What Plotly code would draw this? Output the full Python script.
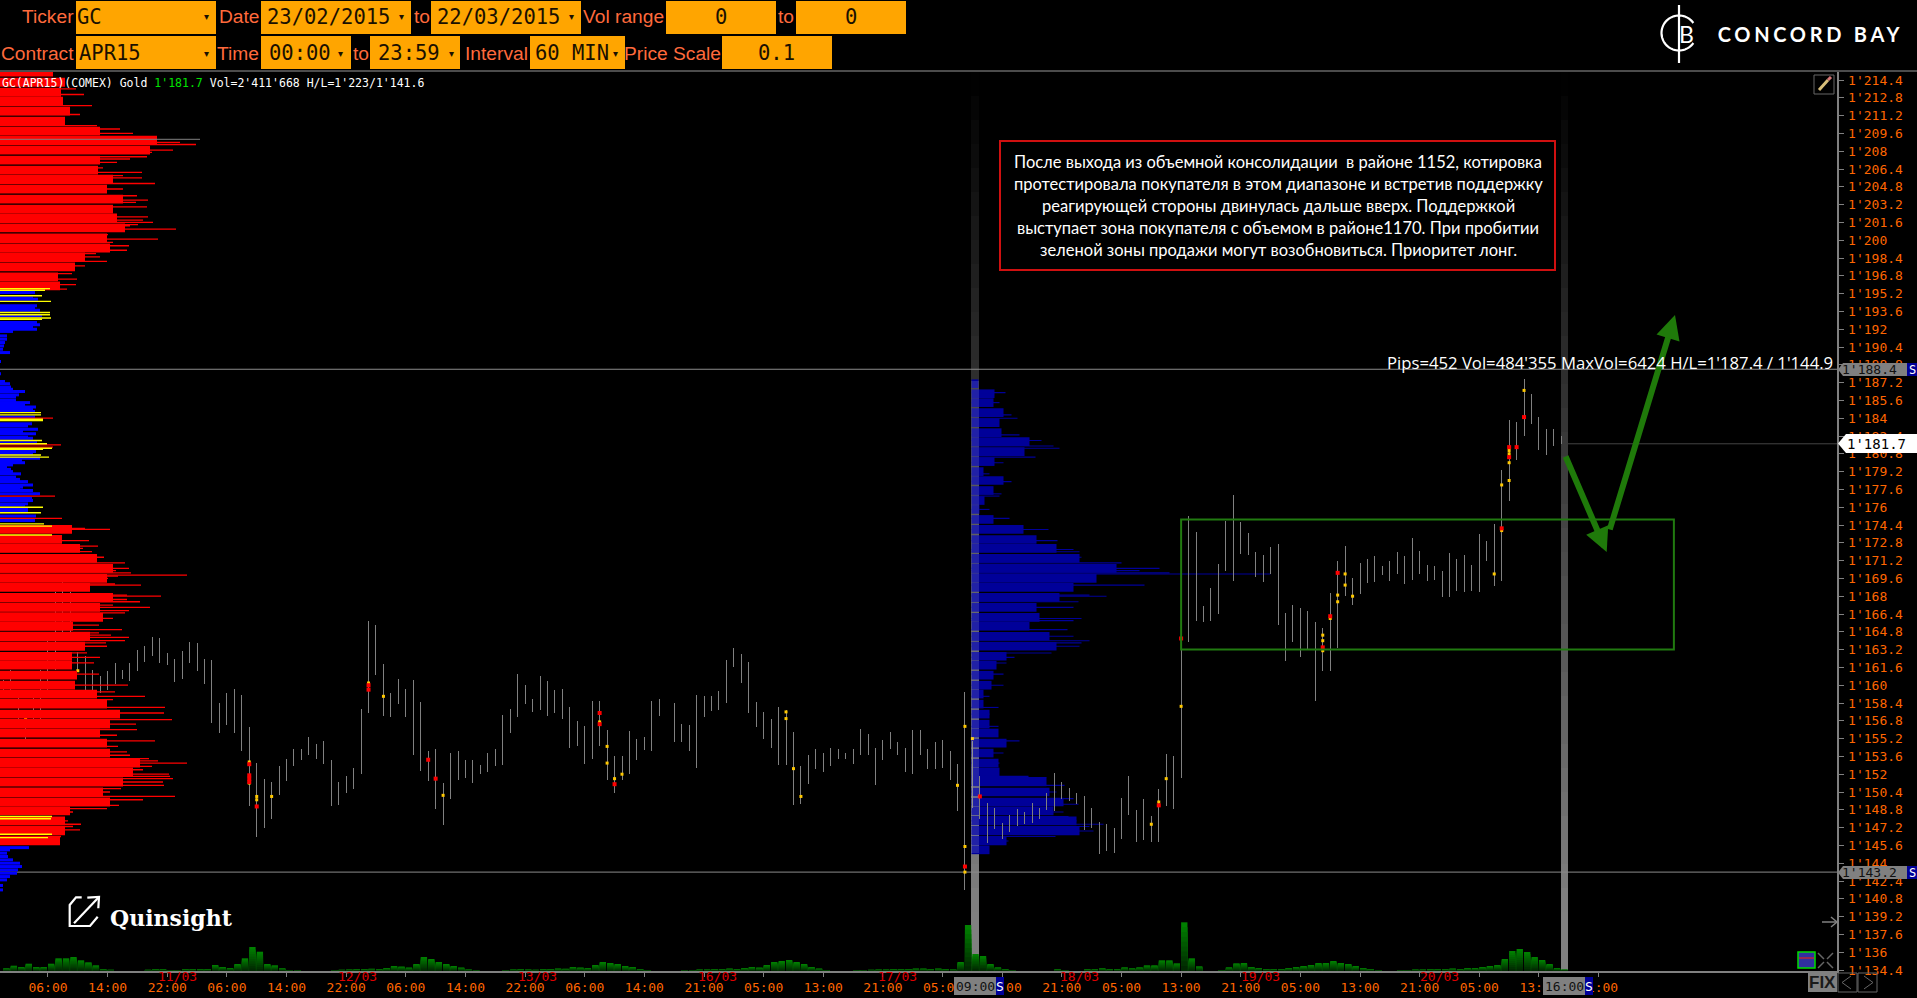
import math
import plotly.graph_objects as go

W, H = 1917, 998

# ---------- hourly bars (gold, APR15): high / low per hour, None = market closed
highs = [1160.5,1161.4,1159.6,1157.0,1159.6,1161.4,1164.8,1168.4,1169.3,1168.4,
 1163.0,1162.6,1161.4,1160.8,1161.3,1162.0,1161.4,1162.0,1163.2,1163.5,
 1164.3,1164.2,1162.9,1162.4,1163.1,1163.9,1163.8,1162.4,1162.3,1158.4,
 1159.3,1159.7,1159.1,1156.2,1153.0,1151.6,1151.3,1152.7,1153.4,1154.3,
 1154.3,1155.3,1154.7,1155.0,1153.3,1151.3,1151.8,1152.6,1157.9,1165.8,
 1165.4,1161.9,1159.3,1160.6,1159.7,1160.5,1158.5,1154.1,1154.3,1151.2,
 1153.9,1154.1,1153.3,1153.3,1152.8,1153.9,1154.3,
 1157.3,1157.9,1161.0,1160.0,1158.8,1160.8,1160.4,1159.6,1159.7,1158.0,
 1156.8,1156.3,1158.6,1158.6,1156.0,1153.6,1153.6,1155.9,1155.2,1155.3,
 1158.6,1158.8,None,1158.4,1156.5,1156.4,1159.1,1159.0,1159.0,1159.5,
 1162.3,1163.3,1162.8,1162.1,1158.5,1157.6,1157.0,1158.0,1157.8,1155.8,
 1152.7,1153.7,1154.3,1153.9,1154.4,1154.3,1153.9,1154.3,1156.1,1155.6,
 1154.4,1155.1,1155.8,1154.9,1154.4,1156.0,1156.0,1154.3,1154.9,1155.1,
 1154.1,1152.9,1159.4,1155.0,
 1151.8,1149.4,1149.0,1147.6,1148.3,1148.9,1148.6,1149.4,1149.0,1150.3,
 1152.1,1151.3,1150.8,1150.3,1150.0,1149.0,1147.7,1147.5,1147.2,1149.9,
 1151.8,1148.8,1149.8,1148.2,1150.7,1153.8,1153.6,1163.2,
 1175.2,1173.8,1167.1,1168.7,1170.9,1174.8,1177.1,1174.7,1173.7,1172.0,
 1171.7,1172.4,1172.7,1166.5,1167.2,1166.9,1166.7,1165.7,1165.1,1168.3,
 1171.2,1172.5,1169.6,1171.0,1171.3,1171.6,1170.7,1171.2,1172.0,1171.6,
 1173.2,1172.1,1170.8,1170.7,1170.3,1171.9,1171.3,1171.7,1170.8,1173.6,
 1173.0,1174.5,1179.3,1183.8,1183.7,1187.5,1186.2,1184.1,1183.0,1183.0,1182.4]
lows = [1159.0,1159.6,1157.0,1154.5,1157.0,1157.0,1159.6,1161.4,1164.1,1164.0,
 1161.2,1159.3,1159.3,1159.3,1159.6,1160.1,1160.6,1160.4,1161.3,1162.1,
 1162.6,1162.0,1161.8,1160.3,1160.6,1162.0,1161.3,1160.1,1156.6,1155.7,
 1156.4,1155.7,1154.1,1149.1,1146.4,1147.2,1148.0,1150.1,1151.4,1152.7,
 1153.3,1153.7,1153.4,1152.9,1149.1,1149.2,1150.3,1150.7,1152.0,1157.5,
 1160.9,1157.2,1157.1,1158.3,1157.1,1153.7,1152.3,1151.4,1148.9,1147.4,
 1149.8,1151.5,1151.7,1151.2,1152.0,1152.2,1152.7,
 1152.8,1155.7,1157.1,1158.3,1157.6,1157.8,1157.2,1157.5,1157.0,1154.4,
 1154.5,1152.9,1153.4,1154.5,1151.5,1150.3,1151.5,1152.0,1153.3,1154.2,
 1154.1,1157.2,None,1154.9,1154.9,1154.1,1152.6,1157.1,1157.7,1157.8,
 1158.4,1161.6,1160.2,1157.5,1156.2,1155.2,1154.4,1152.8,1152.8,1149.2,
 1149.3,1151.1,1152.5,1152.2,1152.7,1153.4,1153.4,1152.9,1153.7,1153.7,
 1151.0,1153.3,1154.3,1153.7,1152.2,1152.0,1153.7,1152.5,1152.5,1152.6,
 1151.5,1148.7,1141.6,1149.0,
 1148.0,1145.8,1147.1,1146.2,1146.8,1147.3,1147.5,1147.6,1148.0,1148.8,
 1148.7,1149.8,1149.6,1149.3,1147.0,1147.2,1144.8,1145.1,1144.9,1146.2,
 1148.3,1145.9,1146.1,1145.9,1145.9,1149.1,1148.9,1151.7,
 1163.9,1165.8,1165.7,1165.8,1166.4,1170.3,1169.4,1171.8,1171.7,1169.7,
 1169.3,1170.0,1165.4,1162.2,1163.9,1162.5,1163.2,1158.6,1161.3,1161.3,
 1163.3,1168.0,1167.2,1168.2,1169.2,1169.3,1169.9,1169.4,1170.0,1169.1,
 1169.5,1170.0,1169.4,1169.5,1167.9,1167.9,1168.5,1168.4,1168.5,1168.4,
 1171.2,1168.9,1169.4,1176.6,1180.2,1182.4,1183.5,1181.1,1180.7,1181.5,1181.7]

hourly_volume = [2.7,5.3,4,7.3,4,4,7.3,12.7,12.7,14,10.7,8.7,5.7,1.7,1.3,
 0,0,0,0,
 1.3,2,2,1,1,2,2,2,2,6,4,3,7,12.7,24,19.3,7,5.7,2.7,1,1,
 0,0,0,0,
 1,1.3,1.5,2,2,2.3,2,3,5,4.5,3.5,
 7,14,12,9,7,5,3.5,1.5,
 0.7,0,0,0,
 1,1.5,2,1.5,1.3,2,2,2.5,2.3,4,3.5,3,
 6,9,8,7,5,4,2,1,
 0,0,0,0,
 1,1,1.5,1.5,2,2,2.5,2,3,4,3.5,
 6,9,10,11,9,7,4,2.5,1,
 0,0,0,
 1,1,1.3,1.5,1.5,2,2,2,2.5,2.5,2,2.5,
 2,1.5,9,46,17,15,7,3.7,1.7,1,
 0,0,0,0,0,
 1.7,1,0,0,
 1.7,1.7,2.7,1.7,1.7,3.7,2.7,3.7,5.7,5.7,10.7,10.7,7.7,48.7,12.7,4.7,0,0,1,3.7,7.7,
 8,4,3,2,2,2,3,
 4,5,6,8,8,10,8,7,5,
 3,2,1,0,0,
 1,1,1.5,1.5,2,2,2,2.5,2,3,3,4,5,6,
 12,20,22,19,14,11,7,3,1.5]

# price clusters marked on the bars
red_hour  = [33,33,33,33,34,49,49,57,58,80,80,82,129,155,131,158,177,178,179,201,202,202,203,204]
red_price = [1152.9,1151.9,1151.6,1151.3,1149.1,1160.0,1159.6,1153.3,1151.6,1157.5,1156.5,1151.1,1143.7,1149.2,1150.0,1164.2,1163.4,1166.2,1170.1,1174.1,1181.4,1180.5,1181.4,1184.1]
yel_hour  = [10,3,33,33,34,34,36,49,51,59,80,81,81,82,83,105,105,106,107,128,129,129,129,130,154,155,156,158,177,177,177,178,179,179,180,180,181,200,201,201,202,202,202,202,204]
yel_price = [1161.3,1157.0,1153.1,1151.2,1150.0,1149.7,1150.0,1160.2,1159.0,1150.1,1156.7,1154.5,1153.0,1151.6,1152.0,1157.6,1157.0,1152.5,1150.0,1151.0,1156.3,1145.5,1143.2,1155.2,1147.5,1149.5,1151.6,1158.1,1164.5,1164.0,1163.1,1166.0,1168.1,1167.5,1170.0,1169.0,1168.0,1170.0,1178.0,1173.9,1181.1,1180.8,1180.0,1178.4,1186.5]

# ---------- full-range volume profile (left)
red_bin_price = [1215.1,1214.2,1213.3,1212.5,1211.6,1210.7,1209.8,1209.0,1208.1,1207.2,1206.3,1205.5,1204.6,1203.7,1202.8,1202.0,1201.1,1200.2,1199.3,1198.5,1197.6,1196.7,1195.9,
 1174.0,1173.1,1172.3,1171.4,1170.5,1169.6,1168.8,1167.9,1167.0,1166.1,1165.3,1164.4,1163.5,1162.6,1161.8,1160.9,1160.0,1159.2,1158.3,1157.4,1156.5,1155.7,1154.8,1153.9,1153.0,1152.2,1151.3,1150.4,1149.5,1148.7,1147.8,1146.9,1146.0]
red_bin_vol = [53,65,61,63,70,65,100,157,150,100,98,113,107,123,113,117,125,107,110,85,75,58,60,
 72,62,80,97,113,107,90,113,100,103,73,90,85,72,72,77,75,97,107,120,110,100,107,110,140,133,123,103,110,70,65,65,60]
red_peak_price = [1213.6,1213.1,1212.1,1211.3,1210.3,1210.0,1209.6,1209.2,1208.8,1208.6,1208.1,1207.9,1207.5,1207.3,1207.0,1206.5,1206.1,1205.8,1205.6,1205.1,1204.6,1204.0,1203.6,1203.4,1203.0,1202.1,1201.8,1201.6,1201.4,1201.3,1201.0,1200.5,1200.1,1199.8,1199.5,1199.1,1198.8,1198.5,1198.1,1197.7,1197.0,1196.5,1196.0,1195.6,
 1184.0,1181.6,1181.4,1177.0,1175.0,
 1174.1,1174.0,1173.0,1172.5,1172.3,1172.0,1171.7,1171.5,1171.0,1170.8,1170.5,1170.3,1170.1,1169.9,1169.8,1169.6,1169.1,1169.0,1168.7,1168.1,1168.0,1167.7,1167.5,1167.2,1167.0,1166.7,1166.5,1166.0,1165.4,1165.0,1164.7,1164.5,1164.3,1164.0,1163.8,1163.5,1162.9,1162.5,
 1162.0,1161.0,1160.0,1159.4,1159.0,1158.7,1158.0,1157.5,1156.9,1156.5,1156.0,1155.5,1155.0,1154.5,1154.0,1153.7,1153.4,1153.2,1153.0,1152.7,1152.4,1152.0,1151.8,1151.6,1151.3,1151.0,1150.7,1150.4,1150.0,1149.7,1149.2,1148.9,1148.6,1147.8,1147.5,1147.3,1147.0,1146.4]
red_peak_vol = [76,84,92,80,97,120,133,157,180,196,173,152,147,130,117,103,142,123,142,155,123,137,148,136,147,148,143,153,138,130,176,108,158,113,129,127,96,100,107,85,72,77,76,67,
 53,61,53,55,62,
 85,110,89,98,83,92,94,104,125,113,129,116,131,187,118,108,115,141,90,127,161,127,140,113,150,129,125,113,99,122,99,111,129,125,106,107,87,100,
 94,99,128,115,145,113,165,164,172,136,137,117,155,118,127,130,149,158,187,152,143,169,170,173,163,164,121,110,175,143,119,107,73,68,81,73,80,61]
blue_price = [1195.3,1194.8,1194.7,1194.1,1193.9,1193.7,1193.2,1192.6,1192.4,1192.2,1192.0,1191.8,1191.4,1191.1,1190.8,1190.5,1190.2,1189.9,1189.1,1188.0,
 1187.3,1187.1,1186.8,1186.6,1186.4,1186.1,1185.9,1185.6,1185.4,1185.2,1185.0,1184.8,1184.6,1184.1,1183.5,1183.3,1183.0,1182.8,1182.6,1182.3,1182.2,1181.8,1181.0,1180.8,1180.4,1180.2,1180.0,1179.8,1179.6,1179.4,1179.2,1179.0,1178.7,1178.5,1178.3,1178.0,1177.8,1177.6,1177.5,1177.2,1176.8,1176.6,1176.3,1176.2,1175.8,1175.7,1175.2,1174.8,
 1146.2,1146.0,1145.8,1145.4,1145.2,1144.9,1144.6,1144.3,1144.0,1143.7,1143.4,1143.1,1142.8,1142.5,1142.0,1141.6]
blue_vol = [35,33,38,37,35,40,42,37,40,33,37,13,7,7,5,4,3,10,1,1,
 5,10,11,13,25,19,16,16,30,25,36,33,35,35,32,28,38,23,36,28,33,37,36,33,40,22,25,13,7,11,13,21,16,20,28,33,23,20,33,40,32,33,28,25,28,28,36,35,
 39,28,23,29,10,7,8,13,20,22,18,17,10,7,3,3]
yellow_price = [1195.65,1195.5,1195.0,1194.5,1193.5,1193.3,1193.0,1192.9,1184.5,1184.3,1183.9,1183.8,1182.0,1181.7,1181.3,1181.2,1180.7,1180.5,1176.0,1175.5,1174.5,1174.3,1173.5,1148.2,1148.0,1146.6,1146.3]
yellow_vol = [50,45,42,51,50,50,51,42,41,41,43,43,42,47,52,43,41,49,43,41,44,52,52,52,51,52,48]

# ---------- session volume profile (09:00 - 16:00 cursor range)
session_price = [1187.1,1186.2,1185.4,1184.5,1183.6,1182.7,1181.9,1181.0,1180.1,1179.2,1178.4,1177.5,1176.6,1175.8,1174.9,1174.0,1173.1,1172.3,1171.4,1170.5,1169.6,1168.8,1167.9,1167.0,1166.1,1165.3,1164.4,1163.5,1162.6,1161.8,1160.9,1160.0,1159.2,1158.3,1157.4,1156.5,1155.7,1154.8,1153.9,1153.0,1152.2,1151.3,1150.4,1149.5,1148.7,1147.8,1146.9,1146.0,1145.2]
session_vol = [7,23,22,32,28,30,58,53,23,12,32,22,13,8,22,52,65,85,108,145,125,102,88,65,68,58,78,85,35,25,22,20,12,12,18,18,27,35,22,27,28,75,78,92,82,105,108,35,18]
session_peak_price = [1186.3,1185.4,1184.3,1184.0,1182.5,1182.0,1181.5,1181.3,1180.5,1180.0,1179.0,1178.3,1177.2,1177.0,1175.8,1175.0,1174.0,1173.0,1172.2,1172.0,1171.5,1171.0,1170.5,1170.3,1170.1,1170.0,1169.0,1168.1,1168.0,1167.5,1167.0,1166.0,1165.8,1165.0,1164.4,1164.0,1163.8,1163.5,1162.9,1162.5,1162.0,
 1161.0,1160.0,1159.0,1158.0,1157.4,1156.3,1155.0,1153.9,1153.0,1151.8,1151.7,1151.0,1150.4,1149.8,1149.3,1148.6,1148.2,1147.8,1147.5,1147.3,1146.9,1146.7,1146.4,1146.0,1145.8]
session_peak_vol = [34,28,40,46,48,70,82,88,64,32,18,40,30,28,18,38,77,86,102,108,110,150,188,168,198,299,173,118,135,107,102,110,102,96,102,118,110,108,80,43,35,
 32,32,18,27,18,27,48,32,28,57,75,93,85,102,107,92,97,105,132,118,122,102,84,37,30]

# ---------- axes
price_ticks = [1134.4,1136,1137.6,1139.2,1140.8,1142.4,1144,1145.6,1147.2,1148.8,1150.4,1152,1153.6,1155.2,1156.8,1158.4,1160,1161.6,1163.2,1164.8,1166.4,1168,1169.6,1171.2,1172.8,1174.4,1176,1177.6,1179.2,1180.8,1182.4,1184,1185.6,1187.2,1188.8,1190.4,1192,1193.6,1195.2,1196.8,1198.4,1200,1201.6,1203.2,1204.8,1206.4,1208,1209.6,1211.2,1212.8,1214.4]
price_labels = ["1'134.4","1'136","1'137.6","1'139.2","1'140.8","1'142.4","1'144","1'145.6","1'147.2","1'148.8","1'150.4","1'152","1'153.6","1'155.2","1'156.8","1'158.4","1'160","1'161.6","1'163.2","1'164.8","1'166.4","1'168","1'169.6","1'171.2","1'172.8","1'174.4","1'176","1'177.6","1'179.2","1'180.8","1'182.4","1'184","1'185.6","1'187.2","1'188.8","1'190.4","1'192","1'193.6","1'195.2","1'196.8","1'198.4","1'200","1'201.6","1'203.2","1'204.8","1'206.4","1'208","1'209.6","1'211.2","1'212.8","1'214.4"]
time_ticks = [6,14,22,30,38,46,54,62,70,78,86,94,102,110,118,126,134,142,150,158,166,174,182,190,198,206,214]
time_labels = ["06:00","14:00","22:00","06:00","14:00","22:00","06:00","14:00","22:00","06:00","14:00","21:00","05:00","13:00","21:00","05:00","13:00","21:00","05:00","13:00","21:00","05:00","13:00","21:00","05:00","13:00","21:00"]
date_hours = [23.4,47.5,71.6,95.8,120,144.4,168.6,192.7]
date_labels = ["11/03","12/03","13/03","16/03","17/03","18/03","19/03","20/03"]

note_lines = ["После выхода из объемной консолидации  в районе 1152, котировка",
 "протестировала покупателя в этом диапазоне и встретив поддержку",
 "реагирующей стороны двинулась дальше вверх. Поддержкой",
 "выступает зона покупателя с объемом в районе1170. При пробитии",
 "зеленой зоны продажи могут возобновиться. Приоритет лонг."]

ORANGE = "#FF6600"
GREY = "#808080"
SANS = "Liberation Sans"
MONO = "DejaVu Sans Mono"

def fx(x): return x / W
def fy(y): return 1 - y / H

fig = go.Figure()

def hbar(price, vol, color, width, axis):
    fig.add_trace(go.Bar(x=vol, y=price, orientation="h", width=width, marker=dict(color=color, line=dict(width=0)),
                         xaxis=axis, yaxis="y", hoverinfo="skip", showlegend=False))

# session profile (under the bars)
hbar(session_price, session_vol, "#000099", 0.78, "x")
hbar(session_peak_price, session_peak_vol, "#000099", 0.1, "x")

# hourly bars
seg_x, seg_y = [], []
for i, (h, l) in enumerate(zip(highs, lows)):
    if h is None:
        continue
    seg_x += [i, i, None]
    seg_y += [h, l, None]
fig.add_trace(go.Scatter(x=seg_x, y=seg_y, mode="lines", line=dict(color=GREY, width=1), xaxis="x2", yaxis="y",
                         hoverinfo="skip", showlegend=False, connectgaps=False))
fig.add_trace(go.Scatter(x=yel_hour, y=yel_price, mode="markers", marker=dict(symbol="square", size=3, color="#FFC800", line=dict(width=0)),
                         xaxis="x2", yaxis="y", hoverinfo="skip", showlegend=False))
fig.add_trace(go.Scatter(x=red_hour, y=red_price, mode="markers", marker=dict(symbol="square", size=4, color="#FF0000", line=dict(width=0)),
                         xaxis="x2", yaxis="y", hoverinfo="skip", showlegend=False))

# full-range profile (over the bars)
hbar(blue_price, blue_vol, "#0000FF", 0.27, "x3")
hbar(red_bin_price, red_bin_vol, "#FF0000", 0.79, "x3")
hbar(red_peak_price, red_peak_vol, "#FF0000", 0.12, "x3")
hbar(yellow_price, yellow_vol, "#FFFF00", 0.13, "x3")

# volume pane, shaded from top to base
hours = list(range(len(hourly_volume)))
N = 10
for s in range(N):
    k = 1 - s / N
    g = int(128 - 88 * s / (N - 1))
    fig.add_trace(go.Bar(x=hours, y=[v * k for v in hourly_volume], width=0.85, offset=0,
                         marker=dict(color=f"rgb(0,{g},0)", line=dict(width=0)),
                         xaxis="x4", yaxis="y2", hoverinfo="skip", showlegend=False))

shapes = []
def rect(x0, y0, x1, y1, fill=None, line=None, lw=1, layer="above"):
    shapes.append(dict(type="rect", xref="paper", yref="paper", x0=fx(x0), x1=fx(x1), y0=fy(y0), y1=fy(y1),
                       fillcolor=fill or "rgba(0,0,0,0)", line=dict(color=line or "rgba(0,0,0,0)", width=lw if line else 0), layer=layer))
def seg(x0, y0, x1, y1, color, lw=1, layer="above"):
    shapes.append(dict(type="line", xref="paper", yref="paper", x0=fx(x0), x1=fx(x1), y0=fy(y0), y1=fy(y1),
                       line=dict(color=color, width=lw), layer=layer))
def poly(pts, color, lw=1, fill=None, close=False):
    d = "M " + " L ".join(f"{fx(a):.5f},{fy(b):.5f}" for a, b in pts) + (" Z" if close else "")
    shapes.append(dict(type="path", xref="paper", yref="paper", path=d, line=dict(color=color, width=lw),
                       fillcolor=fill or "rgba(0,0,0,0)", layer="above"))

# cursor bands, fading upward
for bx0, bx1 in ((971, 979), (1561, 1568)):
    y = 72
    while y < 971:
        y2 = min(y + 24, 971)
        b = min(128, int((y + 12 - 72) * 128 / 830))
        rect(bx0, y, bx1, y2, fill=f"rgb({b},{b},{b})", layer="below")
        y = y2
rect(971, 381, 979, 853, fill="rgba(255,255,255,0.13)")

# separators and reference lines
seg(0, 71, W, 71, "#666666", 1.5)
shapes.append(dict(type="line", xref="paper", yref="y", x0=0, x1=fx(1837), y0=1188.4, y1=1188.4, line=dict(color="#8c8c8c", width=1), layer="below"))
shapes.append(dict(type="line", xref="paper", yref="y", x0=0, x1=fx(1837), y0=1143.2, y1=1143.2, line=dict(color="#8c8c8c", width=1), layer="below"))
shapes.append(dict(type="line", xref="paper", yref="y", x0=fx(1568), x1=fx(1837), y0=1181.7, y1=1181.7, line=dict(color="#444444", width=1), layer="below"))
shapes.append(dict(type="line", xref="paper", yref="y", x0=0, x1=fx(200), y0=1209.07, y1=1209.07, line=dict(color=GREY, width=1), layer="above"))

# consolidation box
shapes.append(dict(type="rect", xref="x2", yref="y", x0=158, x1=224.1, y0=1163.2, y1=1174.9, line=dict(color="#217A10", width=2), fillcolor="rgba(0,0,0,0)", layer="above"))
# note box
rect(1000, 141, 1555, 270, line="#D01010", lw=2, fill="#000000")

# header boxes
for x0, x1, y0, y1 in [(76,216,1,34),(261,411,1,34),(431,581,1,34),(666,776,1,34),(796,906,1,34),
                       (76,216,36,69),(261,351,36,69),(370,460,36,69),(530,625,36,69),(722,832,36,69)]:
    rect(x0, y0, x1, y1, fill="#FFA500")

# price tags
for ya, yb in ((363, 376), (866, 879)):
    ym = (ya + yb) / 2
    poly([(1838, ym), (1843, ya), (1907, ya), (1907, yb), (1843, yb)], GREY, 0, GREY, True)
    rect(1907, ya, 1917, yb, fill="#000099")
poly([(1838, 443.5), (1846, 434), (1917, 434), (1917, 453), (1846, 453)], "#FFFFFF", 0, "#FFFFFF", True)
# time tags
for a, b in ((954, 996), (1543, 1585)):
    rect(a, 977, b, 995, fill=GREY)
    rect(b, 977, b + 8, 995, fill="#000099")

# bottom-right buttons
rect(1808, 973, 1837, 992, fill=GREY)
rect(1838, 973, 1857, 992, line="#666666")
rect(1858, 973, 1877, 992, line="#666666")
poly([(1851, 976), (1842, 982.5), (1851, 989)], "#666666", 1)
poly([(1864, 976), (1873, 982.5), (1864, 989)], "#666666", 1)
rect(1798, 952, 1815, 968, line="#00DD00", lw=1.5, fill="#3030A0")
seg(1799, 958, 1814, 958, "#DD2020", 1.2)
for a, b, c, d in ((1818,953,1824,959),(1833,953,1827,959),(1818,968,1824,962),(1833,968,1827,962)):
    seg(a, b, c, d, "#666666", 1.5)
seg(1822, 922, 1837, 922, GREY, 1.5)
poly([(1831, 917), (1837, 922), (1831, 927)], GREY, 1.5)

# pencil button
rect(1814, 75, 1834, 94, line="#666666", lw=1)
seg(1819, 90, 1828, 80, "#D8BE7A", 3)
seg(1828, 80, 1831, 77, "#D87878", 3)

# Concord Bay emblem
arc = [(1679 + 17.5 * math.cos(math.radians(a)), 33 - 17.5 * math.sin(math.radians(a))) for a in range(35, 330, 5)]
poly(arc, "#FFFFFF", 2.2)
seg(1679, 5, 1679, 63, "#FFFFFF", 2.2)

# Quinsight emblem
poly([(81.7,897.3),(76,897.3),(69.7,905),(69.7,926),(90,926),(97.7,916.7)], "#FFFFFF", 2.2)
seg(74, 923.3, 98, 898, "#FFFFFF", 2.2)
poly([(87.3,897.7),(99,897),(98.3,908.3)], "#FFFFFF", 2.2)

ann = []
# scenario arrows (first, so the figures line stays readable over them)
for tip, start in (((1606.7, 552), (1565, 455)), ((1675, 315), (1609.3, 531))):
    ann.append(dict(xref="paper", yref="paper", x=fx(tip[0]), y=fy(tip[1]), ax=start[0] - tip[0], ay=start[1] - tip[1],
                    axref="pixel", ayref="pixel", showarrow=True, arrowhead=2, arrowsize=0.8, arrowwidth=6, arrowcolor="#1F7A0A", text=""))

def text(x, y, s, color="#FFFFFF", size=12, family=SANS, anchor="left"):
    ann.append(dict(xref="paper", yref="paper", x=fx(x), y=fy(y), text=s, showarrow=False, xanchor=anchor, yanchor="middle",
                    font=dict(color=color, size=size, family=family), borderpad=0, borderwidth=0))

LBL = "#FF6A3C"
for s, xr, y in [("Ticker",74,17),("Date",260,17),("to",430,17),("Vol range",664,17),("to",794,17),
                 ("Contract",74,53),("Time",259,53),("to",369,53),("Interval",528,53),("Price Scale",721,53)]:
    text(xr, y, s, LBL, 19.2, anchor="right")
BX = "#1A1000"
for s, x, y in [("GC",77,17),("23/02/2015",267,17),("22/03/2015",437,17),("APR15",79,53),("00:00",269,53),("23:59",378,53),("60 MIN",535,53)]:
    text(x, y, s, BX, 20.5, MONO)
for s, x, y in [("0",721,17),("0",851,17),("0.1",776,53)]:
    text(x, y, s, BX, 20.5, MONO, "center")
for x, y in [(206,17),(401,17),(571,17),(206,53),(340,53),(451,53),(615,53)]:
    text(x, y, "▾", BX, 10, anchor="center")

text(2, 83, "GC(APR15)(COMEX) Gold <span style='color:#00E000'>1'181.7</span> Vol=2'411'668 H/L=1'223/1'141.6", "#FFFFFF", 11.5, MONO)
for i, s in enumerate(note_lines):
    text(1278, 161.5 + i * 22.2, s, "#FFFFFF", 16.5, "Lato", "center")
text(1833, 362, "Pips=452 Vol=484'355 MaxVol=6424 H/L=1'187.4 / 1'144.9", "#FFFFFF", 16.7, "Open Sans", "right")
text(1842, 369.5, "1'188.4", "#111111", 13, MONO)
text(1912, 369.5, "S", "#FFFFFF", 12, MONO, "center")
text(1842, 872.5, "1'143.2", "#111111", 13, MONO)
text(1912, 872.5, "S", "#FFFFFF", 12, MONO, "center")
text(1847, 443.5, "1'181.7", "#000000", 14, MONO)
text(975, 986, "09:00", "#111111", 13, MONO, "center")
text(1000, 986, "S", "#FFFFFF", 13, MONO, "center")
text(1564, 986, "16:00", "#111111", 13, MONO, "center")
text(1589, 986, "S", "#FFFFFF", 13, MONO, "center")
text(1822.5, 982.5, "FIX", "#1A1A1A", 17, SANS, "center")
ann[-1]["font"]["weight"] = "bold"
text(1811, 34, "CONCORD BAY", "#FFFFFF", 20, "Lato", "center")
ann[-1]["font"]["weight"] = "bold"
text(1679, 34, "B", "#FFFFFF", 23, "Lato")
text(110, 918, "Quinsight", "#FFFFFF", 22, "DejaVu Serif")
ann[-1]["font"]["weight"] = "bold"

for dh, dl in zip(date_hours, date_labels):
    ann.append(dict(xref="x2", yref="paper", x=dh, y=fy(976.5), text=dl, showarrow=False, xanchor="center", yanchor="middle",
                    font=dict(color="#E00000", size=13, family=MONO), borderpad=0))

DOM_X = [0, 1837 / W]
TIME_RANGE = [-0.436, 245.98]
fig.update_layout(
    width=W, height=H, autosize=False, margin=dict(l=0, r=0, t=0, b=0, pad=0),
    paper_bgcolor="#000000", plot_bgcolor="rgba(0,0,0,0)", barmode="overlay", showlegend=False, hovermode=False,
    shapes=shapes, annotations=ann,
    xaxis=dict(domain=DOM_X, range=[-971.5, 865.5], visible=False, fixedrange=True, automargin=False),
    xaxis2=dict(domain=DOM_X, range=TIME_RANGE, overlaying="x", anchor="y", side="bottom", showgrid=False, zeroline=False,
                showline=True, linecolor=GREY, linewidth=1.5, ticks="outside", ticklen=4, tickcolor=GREY, tickwidth=1,
                tickmode="array", tickvals=time_ticks, ticktext=time_labels, tickangle=0, automargin=False,
                tickfont=dict(color=ORANGE, size=13, family=MONO), fixedrange=True),
    xaxis3=dict(domain=DOM_X, range=[0, 1837], overlaying="x", anchor="y", visible=False, fixedrange=True, automargin=False),
    xaxis4=dict(domain=DOM_X, range=TIME_RANGE, anchor="y2", visible=False, fixedrange=True, automargin=False),
    yaxis=dict(domain=[fy(971), fy(72)], range=[1134.31, 1215.12], side="right", anchor="x", showgrid=False, zeroline=False,
               showline=True, linecolor=GREY, linewidth=1.5, ticks="outside", ticklen=5, tickcolor=GREY, tickwidth=1,
               tickmode="array", tickvals=price_ticks, ticktext=price_labels, automargin=False,
               tickfont=dict(color=ORANGE, size=13, family=MONO), ticklabelstandoff=2, fixedrange=True),
    yaxis2=dict(domain=[fy(971), fy(921)], range=[0, 50], anchor="x4", visible=False, fixedrange=True, automargin=False),
)

post = """
document.documentElement.style.background='#000';
document.body.style.margin='0';document.body.style.background='#000';document.body.style.overflow='hidden';
document.querySelectorAll('.annotation-text').forEach(function(t){
  if(t.textContent==='CONCORD BAY'){t.style.letterSpacing='3.7px';}
});
document.querySelectorAll('.scatterlayer .js-line').forEach(function(p){p.style.shapeRendering='crispEdges';});
"""
fig.write_html("out.html", post_script=post, config=dict(displayModeBar=False, staticPlot=True))
